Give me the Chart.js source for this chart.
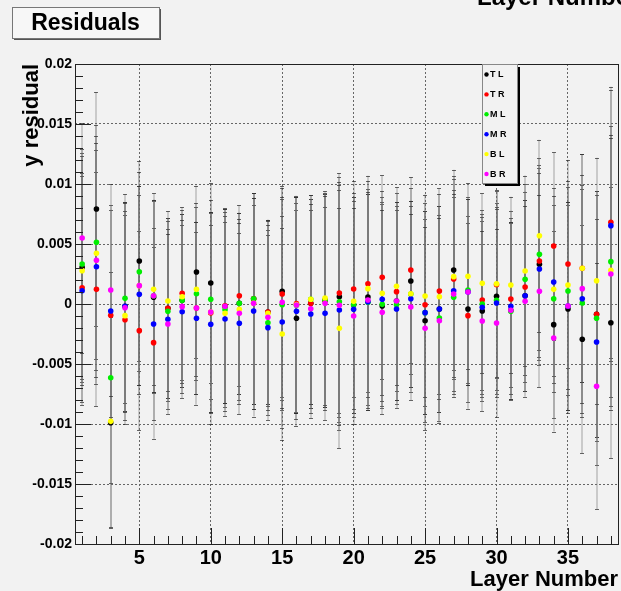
<!DOCTYPE html>
<html>
<head>
<meta charset="utf-8">
<script src="https://cdn.jsdelivr.net/npm/chart.js@4"></script>
<style>
  html, body { margin: 0; padding: 0; background: #f2f2f2; }
  #wrap { width: 621px; height: 591px; position: relative; }
</style>
</head>
<body>
<div id="wrap"><canvas id="chartResiduals"></canvas></div>
<script>
// layer numbers on the x axis
const layers = [1, 2, 3, 4, 5, 6, 7, 8, 9, 10, 11, 12, 13, 14, 15, 16, 17, 18, 19,
  20, 21, 22, 23, 24, 25, 26, 27, 28, 29, 30, 31, 32, 33, 34, 35, 36, 37, 38];

// y residual per layer, one array per series
const residTL = [0.00306, 0.00792, -0.0099, -0.00019, 0.00358, 0.00056, -0.00036, 0.00031, 0.00267, 0.00175,
  -0.00019, 0.00006, 0.00044, -0.00067, 0.00106, -0.00119, 0.00006, 0.0003, 0.00061, -0.00006,
  0.00058, -0.00017, 0.00025, 0.00192, -0.00139, -0.00042, 0.00283, -0.00042, -0.00058, 0.00064,
  -0.00053, 0.00069, 0.00331, -0.00172, -0.00042, -0.00294, -0.00086, -0.00156];
const residTR = [0.00136, 0.00122, -0.00094, -0.00131, -0.00222, -0.00322, -0.00036, 0.00089, -0.00033, -0.00075,
  -0.00014, 0.00069, 0.00044, -0.00067, 0.00083, 0.00003, 0.00006, 0.0003, 0.00092, 0.00125,
  0.00169, 0.00222, 0.00103, 0.00283, -0.00006, 0.00108, 0.00208, -0.00097, 0.00033, 0.00161,
  0.00042, 0.00142, 0.00358, 0.00483, 0.00333, 0.00297, -0.00086, 0.00681];
const residML = [0.00333, 0.00514, -0.00614, 0.00047, 0.00269, 0.00069, -0.00061, 0.00031, 0.00086, 0.00039,
  -0.00047, 0.00006, 0.00044, -0.00156, -0.00006, -0.0001, 0.00039, 0.00031, 0.00019, -0.00006,
  0.00014, -0.00003, -0.00006, 0.00083, -0.00072, -0.00117, 0.00056, 0.00117, 0.0, 0.00031,
  -0.00061, 0.00206, 0.00414, 0.00044, 0.00108, 0.00008, -0.00119, 0.00353];
const residMR = [0.00111, 0.00311, -0.00058, -0.00019, 0.00081, -0.00167, -0.00128, -0.00064, -0.00119, -0.00169,
  -0.00125, -0.00161, -0.00058, -0.00197, -0.0015, -0.00061, -0.00083, -0.00078, -0.0005, -0.00044,
  0.00019, 0.00039, -0.00042, 0.00044, -0.00072, -0.00042, 0.00111, 0.001, -0.00028, 0.00008,
  -0.00019, 0.00069, 0.00292, 0.00183, -0.00017, 0.00044, -0.00317, 0.00653];
const residBL = [0.00278, 0.00422, -0.00978, -0.00097, 0.00153, 0.00122, 0.00025, 0.00061, 0.00122, -0.00067,
  -0.00078, -0.00044, 0.00006, -0.00078, -0.0025, -0.00005, 0.00039, 0.0005, -0.00203, 0.00022,
  0.00128, 0.00089, 0.00147, 0.00086, 0.00067, 0.00061, 0.00228, 0.00231, 0.00172, 0.00169,
  0.00158, 0.00275, 0.00569, 0.00122, 0.00158, 0.00297, 0.00194, 0.00281];
const residBR = [0.0055, 0.00364, 0.00117, -0.00031, 0.00153, 0.00069, -0.00167, -0.00022, -0.00033, -0.00067,
  -0.00019, -0.00078, 0.00006, -0.00111, 0.00014, -0.00008, -0.00039, 0.00006, -0.00011, -0.001,
  0.00033, -0.00069, 0.00025, -0.00025, -0.00203, -0.00139, 0.00083, 0.001, -0.00142, -0.00158,
  -0.00053, 0.00022, 0.00106, -0.00283, -0.00017, 0.00128, -0.00686, 0.0025];

// error on the residual, per layer
const residErr = [0.00955, 0.00975, 0.0088, 0.0087, 0.0083, 0.008, 0.0075, 0.0072, 0.0072, 0.0083,
  0.0081, 0.00755, 0.0088, 0.0077, 0.0088, 0.009, 0.0087, 0.0089, 0.01, 0.009,
  0.009, 0.0085, 0.00825, 0.00775, 0.00845, 0.00855, 0.00835, 0.00775, 0.0075, 0.0078,
  0.00735, 0.00795, 0.008, 0.0078, 0.0087, 0.0095, 0.01025, 0.0113];

const seriesNames = ['T L', 'T R', 'M L', 'M R', 'B L', 'B R'];
const seriesColors = ['#000000', '#ff0000', '#00ee00', '#0000ff', '#ffff00', '#ff00ff'];
const seriesValues = [residTL, residTR, residML, residMR, residBL, residBR];

const xTickValues = [5, 10, 15, 20, 25, 30, 35];
const yTickValues = [-0.02, -0.015, -0.01, -0.005, 0, 0.005, 0.01, 0.015, 0.02];
const yTickLabels = ['-0.02', '-0.015', '-0.01', '-0.005', '0', '0.005', '0.01', '0.015', '0.02'];

const FONT = '"Liberation Sans", Arial, Helvetica, sans-serif';
const BG = '#f2f2f2';
Chart.defaults.font.family = FONT;
Chart.defaults.color = '#000';

// ROOT-like extras: error bars, inside ticks, frame, legend box, title box
const rootStyle = {
  id: 'rootStyle',
  beforeDraw(chart) {
    const ctx = chart.ctx;
    ctx.save();
    ctx.fillStyle = BG;
    ctx.fillRect(0, 0, chart.width, chart.height);
    ctx.restore();
  },
  beforeDatasetsDraw(chart) {
    const ctx = chart.ctx;
    const xs = chart.scales.x, ys = chart.scales.y;
    ctx.save();
    seriesValues.forEach(vals => {
      vals.forEach((v, i) => {
        const px = Math.round(xs.getPixelForValue(layers[i]));
        const yHi = ys.getPixelForValue(v + residErr[i]);
        const yLo = ys.getPixelForValue(v - residErr[i]);
        ctx.strokeStyle = 'rgba(110,110,110,0.3)';
        ctx.lineWidth = 2;
        ctx.beginPath();
        ctx.moveTo(px, yHi);
        ctx.lineTo(px, yLo);
        ctx.stroke();
        ctx.strokeStyle = 'rgba(40,40,40,0.7)';
        ctx.lineWidth = 1;
        ctx.beginPath();
        ctx.moveTo(px - 2, Math.round(yHi) + 0.5);
        ctx.lineTo(px + 2, Math.round(yHi) + 0.5);
        ctx.moveTo(px - 2, Math.round(yLo) + 0.5);
        ctx.lineTo(px + 2, Math.round(yLo) + 0.5);
        ctx.stroke();
      });
    });
    ctx.restore();
  },
  afterDatasetsDraw(chart) {
    const ctx = chart.ctx;
    const a = chart.chartArea;
    const xs = chart.scales.x, ys = chart.scales.y;
    ctx.save();
    // frame
    ctx.strokeStyle = '#222';
    ctx.lineWidth = 1;
    ctx.strokeRect(Math.round(a.left) + 0.5, Math.round(a.top) + 0.5,
      Math.round(a.right - a.left), Math.round(a.bottom - a.top));
    // ticks drawn inside the frame
    ctx.beginPath();
    for (let k = -20; k <= 20; k++) {
      const y = Math.round(ys.getPixelForValue(k / 1000)) + 0.5;
      const len = k % 5 === 0 ? 16 : 8;
      ctx.moveTo(a.left, y);
      ctx.lineTo(a.left + len, y);
    }
    layers.forEach(l => {
      const x = Math.round(xs.getPixelForValue(l)) + 0.5;
      const len = l % 5 === 0 ? 16 : 8;
      ctx.moveTo(x, a.bottom);
      ctx.lineTo(x, a.bottom - len);
    });
    ctx.stroke();

    // legend box with shadow
    const lx = 482, ly = 64, lw = 35, lh = 119;
    ctx.fillStyle = '#000';
    ctx.fillRect(lx + 3, ly + 3, lw, lh);
    ctx.fillStyle = BG;
    ctx.fillRect(lx, ly, lw, lh);
    ctx.strokeStyle = '#888';
    ctx.strokeRect(lx + 0.5, ly + 0.5, lw, lh);
    ctx.font = 'bold 9px ' + FONT;
    ctx.textBaseline = 'middle';
    ctx.textAlign = 'left';
    seriesNames.forEach((name, i) => {
      const y = 74.5 + i * 19.9;
      ctx.fillStyle = seriesColors[i];
      ctx.beginPath();
      ctx.arc(lx + 4.5, y, 2.2, 0, Math.PI * 2);
      ctx.fill();
      ctx.fillStyle = '#000';
      ctx.fillText(name, lx + 8, y + 0.5);
    });

    // pad title box
    const tx = 12, ty = 7, tw = 147, th = 31;
    ctx.fillStyle = '#555';
    ctx.fillRect(tx + 2, ty + 2, tw, th);
    ctx.fillStyle = '#f7f7f7';
    ctx.fillRect(tx, ty, tw, th);
    ctx.strokeStyle = '#777';
    ctx.strokeRect(tx + 0.5, ty + 0.5, tw, th);
    ctx.fillStyle = '#000';
    ctx.font = 'bold 23px ' + FONT;
    ctx.textAlign = 'center';
    ctx.textBaseline = 'middle';
    ctx.fillText('Residuals', tx + tw / 2, ty + th / 2 + 1);

    // axis title of the pad above, cut by the top edge
    ctx.textAlign = 'left';
    ctx.textBaseline = 'alphabetic';
    ctx.font = 'bold 24px ' + FONT;
    ctx.fillText('Layer Number', 477, 5);
    ctx.restore();
  }
};

const datasets = seriesNames.map((name, i) => ({
  label: name,
  data: layers.map((l, j) => ({ x: l, y: seriesValues[i][j] })),
  backgroundColor: seriesColors[i],
  borderWidth: 0,
  pointRadius: 2.8,
  pointHoverRadius: 2.8,
  order: seriesNames.length - i
}));

const ctxResid = document.getElementById('chartResiduals').getContext('2d');
new Chart(ctxResid, {
  type: 'scatter',
  data: { datasets },
  options: {
    responsive: true,
    maintainAspectRatio: false,
    animation: false,
    layout: { padding: { top: 64, right: 3, bottom: 0, left: 0 } },
    plugins: { legend: { display: false }, tooltip: { enabled: false } },
    scales: {
      x: {
        type: 'linear',
        min: 0.5,
        max: 38.5,
        afterBuildTicks: s => { s.ticks = xTickValues.map(v => ({ value: v })); },
        afterFit: s => { s.height = 47; },
        grid: { color: '#666', lineWidth: 1, drawTicks: false },
        border: { display: false, dash: [2, 2] },
        ticks: {
          color: '#000', padding: 2, autoSkip: false, maxRotation: 0,
          font: { size: 20, weight: 'bold' },
          callback: v => String(v)
        },
        title: {
          display: true, text: 'Layer Number', align: 'end', color: '#000',
          font: { size: 22, weight: 'bold', lineHeight: 1 }, padding: { top: 0, bottom: 0 }
        }
      },
      y: {
        type: 'linear',
        min: -0.02,
        max: 0.02,
        afterBuildTicks: s => { s.ticks = yTickValues.map(v => ({ value: v })); },
        afterFit: s => { s.width = 75; },
        grid: { color: '#666', lineWidth: 1, drawTicks: false },
        border: { display: false, dash: [2, 2] },
        ticks: {
          color: '#000', padding: 3, autoSkip: false,
          font: { size: 14, weight: 'bold' },
          callback: (v, i) => yTickLabels[i]
        },
        title: {
          display: true, text: 'y residual', align: 'end', color: '#000',
          font: { size: 22, weight: 'bold' }, padding: { top: 19, bottom: 0 }
        }
      }
    }
  },
  plugins: [rootStyle]
});
</script>
</body>
</html>
